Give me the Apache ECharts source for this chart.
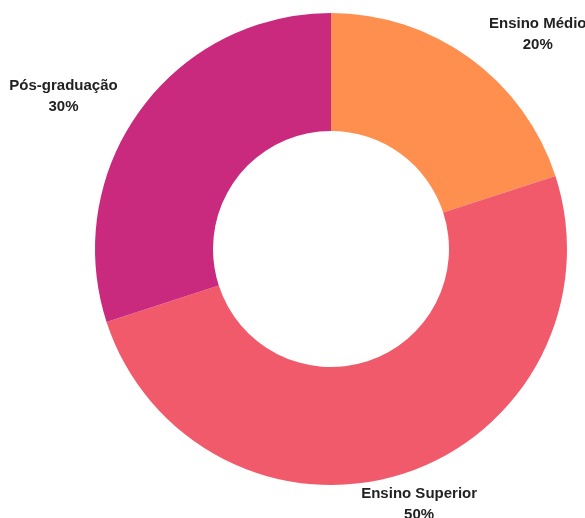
<!DOCTYPE html>
<html>
<head>
<meta charset="utf-8">
<script src="https://cdn.jsdelivr.net/npm/echarts@6/dist/echarts.min.js"></script>
<style>
  html, body { margin: 0; padding: 0; background: #ffffff; }
  #chart { width: 585px; height: 518px; }
</style>
</head>
<body>
<div id="chart"></div>
<script>
// Escolaridade: share of each education level
const categories = ['Ensino Médio', 'Ensino Superior', 'Pós-graduação'];
const values = [20, 50, 30];
const colors = ['#FF8F4E', '#F15A6A', '#C92A7E'];
// label leader offsets per slice (line hidden, only used to place text)
const leadLengths = [29, 33, 23];
const leadLengths2 = [46, 0, 53];

const chart = echarts.init(document.getElementById('chart'), null, { renderer: 'canvas' });

const data = categories.map((name, i) => ({
  name: name,
  value: values[i],
  itemStyle: { color: colors[i] },
  labelLine: { show: false, length: leadLengths[i], length2: leadLengths2[i] }
}));

chart.setOption({
  animation: false,
  series: [{
    type: 'pie',
    center: [331, 249],
    radius: [118, 236],
    startAngle: 90,
    clockwise: true,
    avoidLabelOverlap: false,
    label: {
      show: true,
      position: 'outside',
      formatter: '{b}\n{d}%',
      fontFamily: 'Liberation Sans, Arial, sans-serif',
      fontWeight: 'bold',
      fontSize: 15,
      lineHeight: 21,
      color: '#222222'
    },
    labelLine: { show: false },
    labelLayout: { align: 'center' },
    emphasis: { disabled: true },
    data: data
  }]
});
</script>
</body>
</html>
